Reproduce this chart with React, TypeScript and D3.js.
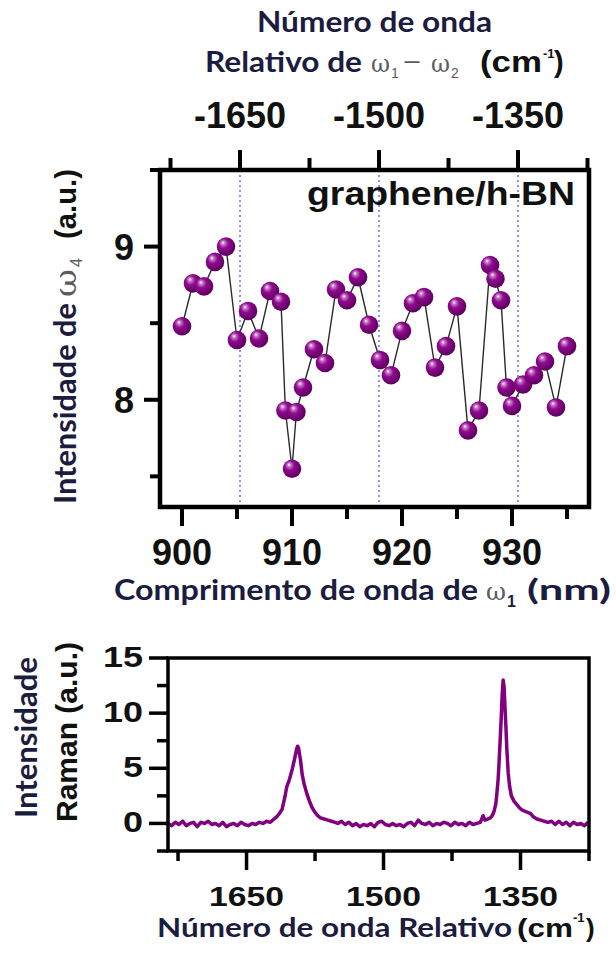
import React from "react";
import * as d3 from "d3";

// ---------- data: upper panel ----------
const wavelengthNm = [900, 901, 902, 903, 904, 905, 906, 907, 908, 909, 909.4, 910, 910.4, 911, 912, 913, 914, 915, 916, 917, 918, 919, 920, 921, 922, 923, 924, 925, 926, 927, 928, 928.5, 929, 929.5, 930, 931, 932, 933, 934, 935];
const intensityW4 = [8.48, 8.76, 8.74, 8.9, 9.0, 8.39, 8.58, 8.4, 8.71, 8.64, 7.93, 7.55, 7.92, 8.08, 8.33, 8.24, 8.72, 8.65, 8.8, 8.49, 8.26, 8.16, 8.45, 8.63, 8.67, 8.21, 8.35, 8.61, 7.8, 7.93, 8.88, 8.79, 8.65, 8.08, 7.96, 8.1, 8.16, 8.25, 7.95, 8.35];
const mainXTicks = [900, 910, 920, 930];
const mainXMinor = [905, 915, 925, 935];
const mainYTicks = [8, 9];
const mainYMinor = [7.5, 8.5, 9.5];
const topTicks = [-1650, -1500, -1350];
const topMinor = [-1725, -1575, -1425, -1275];
const guideLines = [-1650, -1500, -1350];

// ---------- data: lower panel (Raman spectrum) ----------
const ramanSpectrum: [number, number][] = [
  [1736, 0.0], [1732, -0.2], [1728, 0.1], [1724, -0.1], [1720, 0.2], [1716, -0.2], [1712, 0.0], [1708, 0.1],
  [1704, -0.3], [1700, 0.1], [1696, 0.0], [1692, 0.2], [1688, -0.1], [1684, 0.0], [1680, -0.2], [1676, 0.1],
  [1672, -0.3], [1668, -0.1], [1664, 0.0], [1660, -0.2], [1656, 0.1], [1652, -0.1], [1648, -0.2], [1644, 0.0],
  [1640, -0.1], [1636, 0.1], [1632, 0.0], [1628, 0.2], [1624, 0.1], [1620, 0.4], [1617, 0.6], [1614, 0.9],
  [1611, 1.3], [1608, 2.4], [1606, 3.3], [1603, 4.0], [1600, 4.9], [1597, 6.0], [1595, 6.8], [1594, 7.0],
  [1593, 6.8], [1591, 5.8], [1589, 4.4], [1587, 3.6], [1584, 2.7], [1581, 2.0], [1578, 1.4], [1575, 1.0],
  [1572, 0.7], [1569, 0.5], [1565, 0.4], [1561, 0.3], [1557, 0.2], [1553, 0.1], [1550, 0.0], [1546, 0.2],
  [1542, -0.1], [1538, 0.1], [1534, -0.2], [1530, 0.0], [1526, -0.3], [1522, -0.1], [1518, -0.2], [1514, 0.0],
  [1510, -0.3], [1506, 0.1], [1502, 0.2], [1498, -0.1], [1494, -0.2], [1490, 0.0], [1486, -0.2], [1482, -0.1],
  [1478, -0.3], [1474, 0.0], [1470, 0.1], [1466, -0.2], [1462, 0.3], [1458, 0.0], [1454, -0.1], [1450, 0.1],
  [1446, -0.2], [1442, 0.0], [1438, -0.1], [1434, 0.1], [1430, 0.0], [1426, -0.2], [1422, 0.1], [1418, -0.1],
  [1414, 0.0], [1410, -0.2], [1406, 0.1], [1402, -0.1], [1398, 0.0], [1394, 0.1], [1391, 0.7], [1389, 0.3],
  [1386, 0.4], [1383, 0.5], [1381, 0.7], [1379, 1.1], [1377, 1.8], [1376, 2.6], [1374.5, 4.0], [1373.5, 5.5],
  [1372, 8.0], [1371, 9.8], [1370, 11.8], [1369, 13.0], [1368, 12.4], [1367, 10.5], [1366, 8.8], [1365, 6.8],
  [1363.5, 4.6], [1362, 3.4], [1360, 2.5], [1357, 2.0], [1354, 1.7], [1351, 1.4], [1348, 1.2], [1345, 1.1],
  [1342, 1.0], [1339, 0.9], [1336, 0.6], [1332, 0.4], [1328, 0.3], [1324, 0.2], [1320, 0.1], [1316, 0.2],
  [1312, -0.1], [1308, 0.2], [1304, -0.1], [1300, 0.1], [1296, -0.2], [1292, 0.1], [1288, -0.1], [1284, 0.0],
  [1280, -0.2], [1276, 0.1],
];
const ramanXTicks = [1650, 1500, 1350];
const ramanXMinor = [1725, 1575, 1425, 1275];
const ramanYTicks = [0, 5, 10, 15];
const ramanYMinor = [-2.5, 2.5, 7.5, 12.5];

const SANS = "'Liberation Sans', Arial, sans-serif";
const TITLE = "Lato, 'Open Sans', sans-serif";
const SERIF = "'DejaVu Serif', 'Liberation Serif', serif";
const NAVY = "#1c1c40";
const GRAY = "#5c5c5c";

export default function App() {
  // upper panel scales
  const x = d3.scaleLinear().domain([898, 937]).range([160, 589]);
  const y = d3.scaleLinear().domain([7.3, 9.5]).range([507, 170]);
  const xTop = d3.scaleLinear().domain([-1650, -1350]).range([240, 518]);
  // lower panel scales
  const xr = d3.scaleLinear().domain([1736, 1275]).range([168, 589]);
  const yr = d3.scaleLinear().domain([-2.5, 15]).range([851, 658]);

  const pts = wavelengthNm.map((w, i) => [w, intensityW4[i]] as [number, number]);
  const connect = d3
    .line<[number, number]>()
    .x((d) => x(d[0]))
    .y((d) => y(d[1]))(pts);
  const spectrum = d3
    .line<[number, number]>()
    .x((d) => xr(d[0]))
    .y((d) => yr(d[1]))
    .curve(d3.curveLinear)(ramanSpectrum);

  const [x0, x1] = x.range();
  const [yb, yt] = y.range();
  const [rx0, rx1] = xr.range();
  const [ryb, ryt] = yr.range();

  return (
    <svg
      width={616}
      height={956}
      style={{ position: "absolute", left: 0, top: 0, background: "#fff" }}
    >
      <defs>
        <radialGradient id="ball" cx="0.42" cy="0.4" r="0.62" fx="0.33" fy="0.28">
          <stop offset="0" stopColor="#ffffff" />
          <stop offset="0.16" stopColor="#c878c8" />
          <stop offset="0.42" stopColor="#900a90" />
          <stop offset="1" stopColor="#5a005a" />
        </radialGradient>
        <clipPath id="rclip">
          <rect x={rx0} y={ryt} width={rx1 - rx0} height={ryb - ryt} />
        </clipPath>
      </defs>
      <rect x={0} y={0} width={616} height={956} fill="#fff" />

      {/* ===== top titles ===== */}
      <text x={257} y={32} fontFamily={TITLE} fontWeight={700} fontSize={28} fill={NAVY} textLength={235} lengthAdjust="spacingAndGlyphs">
        Número de onda
      </text>
      <text x={205} y={72} fontFamily={TITLE} fontWeight={700} fontSize={28} fill={NAVY} textLength={157} lengthAdjust="spacingAndGlyphs">
        Relativo de
      </text>
      <text x={371} y={72} fontFamily={SERIF} fontSize={25} fill={GRAY} textLength={19} lengthAdjust="spacingAndGlyphs">ω</text>
      <text x={391} y={78} fontFamily={SANS} fontSize={14} fill={GRAY}>1</text>
      <text x={403} y={71} fontFamily={SANS} fontSize={26} fill={GRAY} textLength={18} lengthAdjust="spacingAndGlyphs">−</text>
      <text x={431} y={72} fontFamily={SERIF} fontSize={25} fill={GRAY} textLength={19} lengthAdjust="spacingAndGlyphs">ω</text>
      <text x={451} y={78} fontFamily={SANS} fontSize={14} fill={GRAY}>2</text>
      <text x={480} y={72} fontFamily={SANS} fontWeight={700} fontSize={29} fill="#111" textLength={62} lengthAdjust="spacingAndGlyphs">(cm</text>
      <text x={543} y={58} fontFamily={SANS} fontWeight={700} fontSize={13} fill="#111">-1</text>
      <text x={554} y={72} fontFamily={SANS} fontWeight={700} fontSize={29} fill="#111">)</text>

      {/* top tick labels */}
      {topTicks.map((t) => (
        <text key={t} x={xTop(t)} y={128} textAnchor="middle" fontFamily={SANS} fontWeight={700} fontSize={36} fill="#111">
          {String(t)}
        </text>
      ))}

      {/* ===== upper panel ===== */}
      {guideLines.map((t) => (
        <line key={t} x1={xTop(t)} x2={xTop(t)} y1={yt} y2={yb} stroke="#7373ff" strokeWidth={1.6} strokeDasharray="2 3" />
      ))}
      <path d={connect || ""} fill="none" stroke="#2a2a2a" strokeWidth={1.4} />
      {pts.map((d, i) => (
        <circle key={i} cx={x(d[0])} cy={y(d[1])} r={9.3} fill="url(#ball)" />
      ))}
      <text x={307} y={205} fontFamily={SANS} fontWeight={700} fontSize={33} fill="#111" textLength={268} lengthAdjust="spacingAndGlyphs">
        graphene/h-BN
      </text>
      <rect x={x0} y={yt} width={x1 - x0} height={yb - yt} fill="none" stroke="#000" strokeWidth={4.5} />
      {/* top axis ticks */}
      {topTicks.map((t) => (
        <line key={"tt" + t} x1={xTop(t)} x2={xTop(t)} y1={yt} y2={yt - 20} stroke="#000" strokeWidth={4} />
      ))}
      {topMinor.map((t) => (
        <line key={"tm" + t} x1={xTop(t)} x2={xTop(t)} y1={yt} y2={yt - 12} stroke="#000" strokeWidth={4} />
      ))}
      {/* bottom axis ticks */}
      {mainXTicks.map((t) => (
        <line key={"bx" + t} x1={x(t)} x2={x(t)} y1={yb} y2={yb + 19} stroke="#000" strokeWidth={4} />
      ))}
      {mainXMinor.map((t) => (
        <line key={"bm" + t} x1={x(t)} x2={x(t)} y1={yb} y2={yb + 12} stroke="#000" strokeWidth={4} />
      ))}
      {mainXTicks.map((t) => (
        <text key={"bl" + t} x={x(t)} y={565} textAnchor="middle" fontFamily={SANS} fontWeight={700} fontSize={36} fill="#111">
          {String(t)}
        </text>
      ))}
      {/* left axis ticks */}
      {mainYTicks.map((t) => (
        <line key={"ly" + t} x1={x0} x2={x0 - 16} y1={y(t)} y2={y(t)} stroke="#000" strokeWidth={4} />
      ))}
      {mainYMinor.map((t) => (
        <line key={"lm" + t} x1={x0} x2={x0 - 10} y1={y(t)} y2={y(t)} stroke="#000" strokeWidth={4} />
      ))}
      {mainYTicks.map((t) => (
        <text key={"yl" + t} x={134} y={y(t) + 13} textAnchor="end" fontFamily={SANS} fontWeight={700} fontSize={36} fill="#111">
          {String(t)}
        </text>
      ))}

      {/* upper y title (rotated) */}
      <g transform="translate(76,504) rotate(-90)">
        <text x={0} y={0} fontFamily={TITLE} fontWeight={700} fontSize={30} fill={NAVY} textLength={201} lengthAdjust="spacingAndGlyphs">
          Intensidade de
        </text>
        <text x={207} y={0} fontFamily={SERIF} fontSize={29} fill={GRAY} textLength={28} lengthAdjust="spacingAndGlyphs">ω</text>
        <text x={237} y={6} fontFamily={SANS} fontSize={16} fill={GRAY}>4</text>
        <text x={265} y={0} fontFamily={SANS} fontWeight={700} fontSize={29} fill="#111" textLength={70} lengthAdjust="spacingAndGlyphs">
          (a.u.)
        </text>
      </g>

      {/* upper x title */}
      <text x={114} y={600} fontFamily={TITLE} fontWeight={700} fontSize={28} fill={NAVY} textLength={364} lengthAdjust="spacingAndGlyphs">
        Comprimento de onda de
      </text>
      <text x={486} y={600} fontFamily={SERIF} fontSize={25} fill={GRAY} textLength={20} lengthAdjust="spacingAndGlyphs">ω</text>
      <text x={507} y={607} fontFamily={SANS} fontWeight={700} fontSize={16} fill={NAVY}>1</text>
      <text x={527} y={600} fontFamily={TITLE} fontWeight={700} fontSize={28} fill={NAVY} textLength={84} lengthAdjust="spacingAndGlyphs">
        (nm)
      </text>

      {/* ===== lower panel ===== */}
      <path d={spectrum || ""} fill="none" stroke="#800080" strokeWidth={3.5} strokeLinejoin="round" clipPath="url(#rclip)" />
      <rect x={rx0} y={ryt} width={rx1 - rx0} height={ryb - ryt} fill="none" stroke="#000" strokeWidth={3.5} />
      {ramanXTicks.map((t) => (
        <line key={"rx" + t} x1={xr(t)} x2={xr(t)} y1={ryb} y2={ryb + 19} stroke="#000" strokeWidth={3.5} />
      ))}
      {ramanXMinor.map((t) => (
        <line key={"rxm" + t} x1={xr(t)} x2={xr(t)} y1={ryb} y2={ryb + 10} stroke="#000" strokeWidth={3.5} />
      ))}
      {ramanXTicks.map((t) => (
        <text key={"rxl" + t} x={xr(t)} y={906} textAnchor="middle" fontFamily={SANS} fontWeight={700} fontSize={28} fill="#111" textLength={75} lengthAdjust="spacingAndGlyphs">
          {String(t)}
        </text>
      ))}
      {ramanYTicks.map((t) => (
        <line key={"ry" + t} x1={rx0} x2={rx0 - 19} y1={yr(t)} y2={yr(t)} stroke="#000" strokeWidth={3.5} />
      ))}
      {ramanYMinor.map((t) => (
        <line key={"rym" + t} x1={rx0} x2={rx0 - 11} y1={yr(t)} y2={yr(t)} stroke="#000" strokeWidth={3.5} />
      ))}
      {ramanYTicks.map((t) => (
        <text key={"ryl" + t} x={143} y={yr(t) + 9} textAnchor="end" fontFamily={SANS} fontWeight={700} fontSize={29} fill="#111" textLength={String(t).length * 20} lengthAdjust="spacingAndGlyphs">
          {String(t)}
        </text>
      ))}

      {/* lower y titles */}
      <g transform="translate(37,818) rotate(-90)">
        <text x={0} y={0} fontFamily={TITLE} fontWeight={700} fontSize={30} fill={NAVY} textLength={161} lengthAdjust="spacingAndGlyphs">
          Intensidade
        </text>
      </g>
      <g transform="translate(77,822) rotate(-90)">
        <text x={0} y={0} fontFamily={SANS} fontWeight={700} fontSize={30} fill="#111" textLength={180} lengthAdjust="spacingAndGlyphs">
          Raman (a.u.)
        </text>
      </g>

      {/* lower x title */}
      <text x={157} y={937} fontFamily={TITLE} fontWeight={700} fontSize={27} fill={NAVY} textLength={355} lengthAdjust="spacingAndGlyphs">
        Número de onda Relativo
      </text>
      <text x={517} y={937} fontFamily={SANS} fontWeight={700} fontSize={26} fill="#111" textLength={56} lengthAdjust="spacingAndGlyphs">(cm</text>
      <text x={573} y={922} fontFamily={SANS} fontWeight={700} fontSize={13} fill="#111">-1</text>
      <text x={586} y={937} fontFamily={SANS} fontWeight={700} fontSize={26} fill="#111">)</text>
    </svg>
  );
}
